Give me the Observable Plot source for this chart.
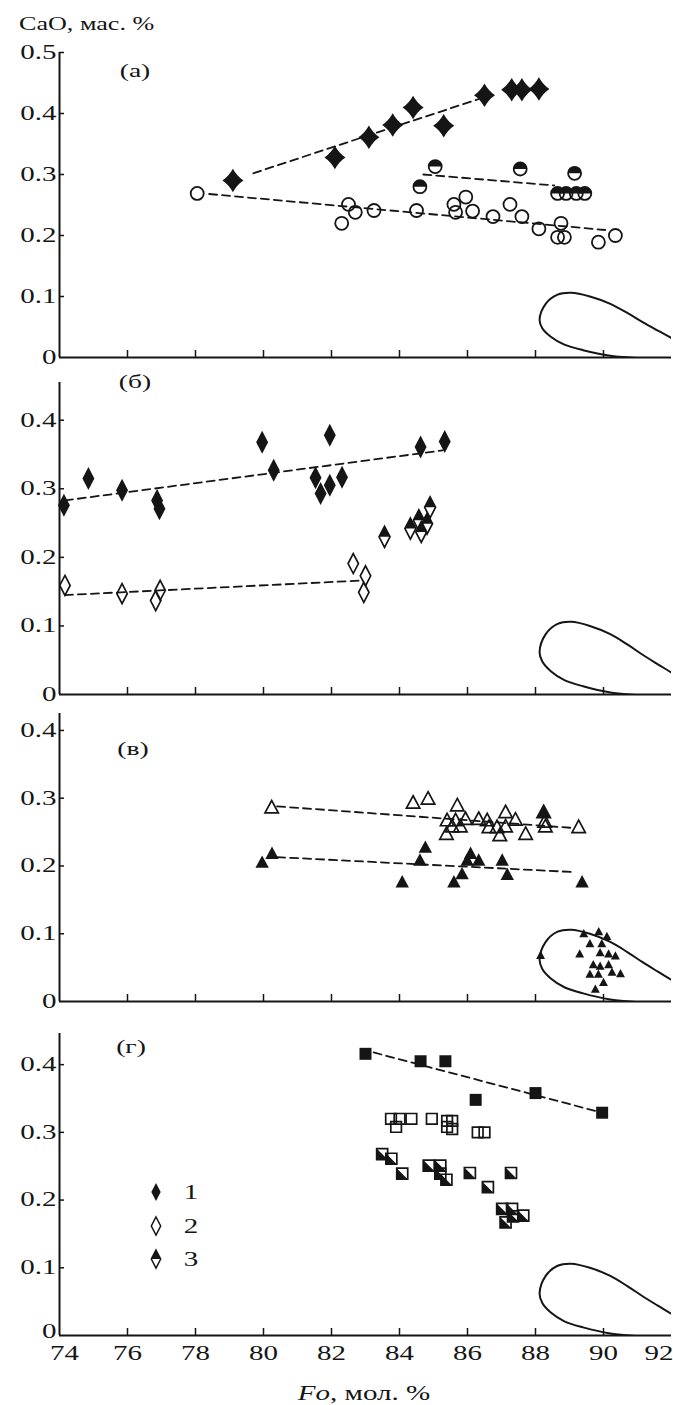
<!DOCTYPE html>
<html><head><meta charset="utf-8">
<script src="https://cdn.jsdelivr.net/npm/d3@7"></script>
<script src="https://cdn.jsdelivr.net/npm/@observablehq/plot@0.6"></script>
<style>
html,body{margin:0;padding:0;background:#fff;}
#wrap{position:relative;width:673px;height:1405px;overflow:hidden;background:#fff;font-family:"Liberation Serif","Times New Roman",serif;color:#151515;}
.panel{position:absolute;left:0;}
.panel svg{overflow:visible;display:block;}
.lbl{position:absolute;white-space:nowrap;line-height:1;}
</style></head>
<body><div id="wrap"></div>
<script>
// ---------- shared axis values ----------
const X_TICKS = [74, 76, 78, 80, 82, 84, 86, 88, 90, 92];
const Y_TICKS_A = [0, 0.1, 0.2, 0.3, 0.4, 0.5];
const Y_TICKS = [0, 0.1, 0.2, 0.3, 0.4];
const PANEL_LABELS = ["(а)", "(б)", "(в)", "(г)"];
const LEGEND_LABELS = ["1", "2", "3"];
const Y_TITLE = "CaO, мас. %";

// mantle olivine field outline (Fo, CaO)
const LOOP = [[88.12,0.062],[88.3,0.088],[88.65,0.103],[89.05,0.106],[89.6,0.1],[90.2,0.088],[90.7,0.073],[91.15,0.058],[91.6,0.044],[92.06,0.03],[92.5,0.015],[92.8,0.0],[92.6,-0.008],[92.0,-0.008],[91.2,-0.002],[90.2,0.003],[89.4,0.012],[88.85,0.021],[88.45,0.034],[88.2,0.048]];

// ---------- panel (а) ----------
const A_S1 = [[79.1,0.29],[82.1,0.328],[83.1,0.361],[83.8,0.381],[84.4,0.41],[85.3,0.38],[86.5,0.43],[87.3,0.439],[87.6,0.439],[88.1,0.44]];
const A_S2 = [[78.05,0.269],[82.5,0.251],[82.7,0.238],[82.3,0.22],[83.25,0.241],[84.5,0.241],[85.6,0.251],[85.95,0.263],[85.65,0.238],[86.15,0.24],[86.75,0.231],[87.25,0.251],[87.6,0.231],[88.1,0.211],[88.75,0.22],[88.65,0.197],[88.85,0.197],[89.85,0.189],[90.35,0.2]];
const A_S3 = [[84.6,0.28],[85.05,0.313],[87.55,0.309],[89.15,0.302],[88.65,0.269],[88.9,0.269],[89.2,0.269],[89.45,0.269]];
const A_L1 = [[79.7,0.302],[86.4,0.425]];
const A_L2 = [[78.4,0.268],[90.05,0.209]];
const A_L3 = [[84.7,0.3],[88.55,0.282]];

// ---------- panel (б) ----------
const B_S1 = [[74.13,0.276],[74.85,0.315],[75.84,0.298],[76.87,0.283],[76.94,0.271],[79.96,0.368],[80.3,0.327],[81.53,0.316],[81.68,0.293],[81.95,0.305],[81.95,0.378],[82.31,0.317],[84.62,0.361],[85.33,0.369]];
const B_S2 = [[74.16,0.159],[75.84,0.147],[76.83,0.137],[76.96,0.152],[82.64,0.191],[83.0,0.173],[82.95,0.149]];
const B_S3 = [[83.56,0.23],[84.32,0.242],[84.57,0.254],[84.64,0.237],[84.81,0.249],[84.9,0.273]];
const B_L1 = [[74.16,0.283],[85.27,0.356]];
const B_L2 = [[74.16,0.145],[82.8,0.166]];

// ---------- panel (в) ----------
const V_OPEN = [[80.24,0.286],[84.4,0.293],[84.84,0.299],[85.7,0.289],[85.4,0.267],[85.38,0.247],[85.55,0.258],[85.65,0.267],[85.79,0.258],[85.94,0.269],[86.33,0.269],[86.58,0.267],[86.63,0.257],[86.87,0.257],[86.95,0.245],[87.12,0.279],[87.12,0.258],[87.41,0.268],[87.71,0.247],[88.24,0.279],[88.27,0.265],[88.29,0.258],[89.27,0.257]];
const V_FILL = [[79.96,0.205],[80.25,0.218],[84.08,0.176],[84.76,0.227],[84.6,0.208],[85.6,0.176],[85.84,0.188],[85.99,0.208],[86.09,0.218],[86.33,0.208],[87.02,0.208],[87.17,0.187],[89.37,0.176],[88.24,0.279]];
const V_MANTLE = [[88.15,0.068],[89.42,0.1],[89.86,0.103],[90.1,0.096],[89.3,0.07],[89.6,0.085],[89.95,0.085],[89.9,0.072],[90.15,0.07],[90.35,0.067],[89.7,0.054],[89.9,0.052],[90.15,0.054],[89.6,0.04],[89.85,0.04],[90.25,0.043],[90.5,0.041],[90.0,0.028],[89.76,0.018]];
const V_L_OPEN = [[80.4,0.288],[89.13,0.256]];
const V_L_FILL = [[80.4,0.213],[89.13,0.191]];

// ---------- panel (г) ----------
const G_S1 = [[83.0,0.416],[84.62,0.405],[85.35,0.405],[86.24,0.348],[88.0,0.358],[89.96,0.329]];
const G_S2 = [[83.75,0.32],[84.0,0.32],[84.35,0.32],[83.9,0.308],[84.95,0.32],[85.4,0.317],[85.55,0.317],[85.4,0.308],[85.55,0.305],[86.3,0.3],[86.5,0.3]];
const G_S3 = [[83.49,0.268],[83.76,0.261],[84.08,0.239],[84.86,0.251],[85.2,0.251],[85.2,0.239],[85.38,0.23],[86.07,0.24],[86.6,0.219],[87.28,0.24],[87.02,0.187],[87.31,0.187],[87.64,0.177],[87.12,0.167],[87.34,0.176]];
const G_L1 = [[83.24,0.418],[89.81,0.331]];

// ---------- symbols ----------
const mk = f => ({draw(c, size) { const s = Math.sqrt(size / Math.PI); f(c, s); }});
const STAR = mk((c, s) => { const k = 0.4, t = 1.12; c.moveTo(0, -t*s); c.quadraticCurveTo(k*s, -k*s, s, 0); c.quadraticCurveTo(k*s, k*s, 0, t*s); c.quadraticCurveTo(-k*s, k*s, -s, 0); c.quadraticCurveTo(-k*s, -k*s, 0, -t*s); c.closePath(); });
const DIAM = mk((c, s) => { c.moveTo(0, -s); c.lineTo(0.52*s, 0); c.lineTo(0, s); c.lineTo(-0.52*s, 0); c.closePath(); });
const DIAM_TOP = mk((c, s) => { c.moveTo(0, -s); c.lineTo(0.52*s, 0); c.lineTo(-0.52*s, 0); c.closePath(); });
const CIRC_TOP = mk((c, s) => { c.moveTo(-s, 0); c.arc(0, 0, s, Math.PI, 2*Math.PI); c.closePath(); });
const TRI = mk((c, s) => { c.moveTo(0, -s); c.lineTo(0.93*s, 0.72*s); c.lineTo(-0.93*s, 0.72*s); c.closePath(); });
const SQ = mk((c, s) => { c.moveTo(-s, -s); c.lineTo(s, -s); c.lineTo(s, s); c.lineTo(-s, s); c.closePath(); });
const SQ_HALF = mk((c, s) => { c.moveTo(-s, -s); c.lineTo(s, s); c.lineTo(-s, s); c.closePath(); });

const INK = "#151515";
const px = d => d[0], py = d => d[1];
const dash = data => Plot.line(data, {x: px, y: py, stroke: INK, strokeWidth: 1.8, strokeDasharray: "8,5"});
const filled = (data, sym, r) => Plot.dot(data, {x: px, y: py, symbol: sym, r, fill: INK, stroke: "none"});
const open = (data, sym, r) => Plot.dot(data, {x: px, y: py, symbol: sym, r, fill: "none", stroke: INK, strokeWidth: 1.7});
const openCircle = (data, r) => Plot.dot(data, {x: px, y: py, r, fill: "none", stroke: INK, strokeWidth: 1.8});

const W = 673, ML = 59, MR = 2;
const panels = [
  {top: 0, height: 370, mt: 52, mb: 13, ymax: 0.5, yticks: Y_TICKS_A,
   marks: [dash(A_L1), dash(A_L2), dash(A_L3), openCircle(A_S2, 6.5), openCircle(A_S3, 6.5), filled(A_S3, CIRC_TOP, 6.5), filled(A_S1, STAR, 10.5)]},
  {top: 370, height: 335, mt: 12, mb: 11, ymax: 0.455, yticks: Y_TICKS,
   marks: [dash(B_L1), dash(B_L2), open(B_S2, DIAM, 10), filled(B_S1, DIAM, 11.5), open(B_S3, DIAM, 10.5), filled(B_S3, DIAM_TOP, 10.5)]},
  {top: 705, height: 310, mt: 8, mb: 14, ymax: 0.425, yticks: Y_TICKS,
   marks: [dash(V_L_OPEN), dash(V_L_FILL), open(V_OPEN, TRI, 7.2), filled(V_FILL, TRI, 7.2), filled(V_MANTLE, TRI, 4.8)]},
  {top: 1015, height: 390, mt: 18, mb: 70, ymax: 0.446, yticks: Y_TICKS,
   marks: [dash(G_L1), filled(G_S1, SQ, 6), open(G_S2, SQ, 5.3), filled(G_S3, SQ_HALF, 5.5), open(G_S3, SQ, 5.5)]}
];

const wrap = document.getElementById("wrap");
const SX = 1.45;

panels.forEach((p, i) => {
  const innerH = p.height - p.mt - p.mb;
  const innerW = W - ML - MR;
  const chart = Plot.plot({
    width: W, height: p.height,
    marginLeft: ML, marginRight: MR, marginTop: p.mt, marginBottom: p.mb,
    style: {fontFamily: "Liberation Serif, Times New Roman, serif", fontSize: "20px", color: INK, background: "transparent", overflow: "visible"},
    x: {domain: [74, 92], axis: i === 3 ? "bottom" : null, ticks: X_TICKS, tickSize: 0, tickPadding: 10, tickFormat: d => String(d), label: null},
    y: {domain: [0, p.ymax], ticks: p.yticks, tickSize: 0, tickPadding: 3, tickFormat: d => d === 0 ? "0" : d.toFixed(1), label: null},
    marks: [
      Plot.line(LOOP, {x: px, y: py, curve: "catmull-rom-closed", stroke: INK, strokeWidth: 2, clip: true}),
      Plot.tickX(X_TICKS.slice(1, -1), {x: d => d, insetTop: innerH - 7, stroke: INK, strokeWidth: 1.5}),
      Plot.tickY(p.yticks.slice(1), {y: d => d, insetRight: innerW - 5, stroke: INK, strokeWidth: 1.5}),
      Plot.ruleX([74], {stroke: INK, strokeWidth: 2}),
      Plot.ruleY([0], {stroke: INK, strokeWidth: 2}),
      ...p.marks
    ]
  });
  chart.querySelectorAll("text").forEach(t => {
    const x = parseFloat(t.getAttribute("x")) || 0;
    const tr = t.getAttribute("transform") || "";
    const grp = (t.closest("g[aria-label]") || {getAttribute: () => ""}).getAttribute("aria-label") || "";
    let sx = 0, sy = 0;
    // last x tick label sits at the page edge: anchor it by its right side
    if (t.textContent === "92") { t.setAttribute("text-anchor", "end"); sx = 2; }
    if (t.textContent === "74") sx = 5;
    // bottom panel: lift the y "0" label a little so it clears the "74"
    if (i === 3 && grp.includes("y-axis") && t.textContent === "0") sy = -4;
    t.setAttribute("transform", `${tr} translate(${x + sx},${sy}) scale(${SX},1) translate(${-x},0)`);
  });
  const div = document.createElement("div");
  div.className = "panel";
  div.style.top = p.top + "px";
  div.appendChild(chart);
  wrap.appendChild(div);
});

function addText(html, x, baseline, size, anchor, extra) {
  const d = document.createElement("div");
  d.className = "lbl";
  d.innerHTML = html;
  d.style.fontSize = size + "px";
  d.style.top = (baseline - 0.8375 * size) + "px";
  d.style.left = x + "px";
  if (anchor === "start") { d.style.transformOrigin = "0 0"; d.style.transform = `scaleX(${SX})`; }
  else { d.style.transformOrigin = "50% 0"; d.style.transform = `translateX(-50%) scaleX(${SX})`; }
  if (extra) Object.assign(d.style, extra);
  wrap.appendChild(d);
  return d;
}

addText(Y_TITLE, 19, 30, 18, "start");
addText("<i>Fo</i>, мол. %", 364, 1400, 20, "middle");
const labelPos = [[135, 76.5], [135, 387.5], [133, 754.5], [131, 1052.5]];
PANEL_LABELS.forEach((t, i) => addText(t, labelPos[i][0], labelPos[i][1], 19, "middle"));

// legend (panel г)
const legendSyms = [[DIAM, null], [null, DIAM], [DIAM_TOP, DIAM]];
const legendY = [1192, 1226, 1259];
const ns = "http://www.w3.org/2000/svg";
const lsvg = document.createElementNS(ns, "svg");
lsvg.setAttribute("width", 40); lsvg.setAttribute("height", 110);
lsvg.style.position = "absolute"; lsvg.style.left = "136px"; lsvg.style.top = "1170px";
LEGEND_LABELS.forEach((lab, i) => {
  const [fillSym, strokeSym] = legendSyms[i];
  const s = 9;
  const g = document.createElementNS(ns, "g");
  g.setAttribute("transform", `translate(20,${legendY[i] - 1170})`);
  if (fillSym) { const pth = d3.path(); fillSym.draw(pth, Math.PI * s * s); const e = document.createElementNS(ns, "path"); e.setAttribute("d", pth.toString()); e.setAttribute("fill", INK); g.appendChild(e); }
  if (strokeSym) { const pth = d3.path(); strokeSym.draw(pth, Math.PI * s * s); const e = document.createElementNS(ns, "path"); e.setAttribute("d", pth.toString()); e.setAttribute("fill", "none"); e.setAttribute("stroke", INK); e.setAttribute("stroke-width", 1.5); g.appendChild(e); }
  lsvg.appendChild(g);
  addText(lab, 191, legendY[i] + 6.5, 20, "middle");
});
wrap.appendChild(lsvg);
</script>
</body></html>
